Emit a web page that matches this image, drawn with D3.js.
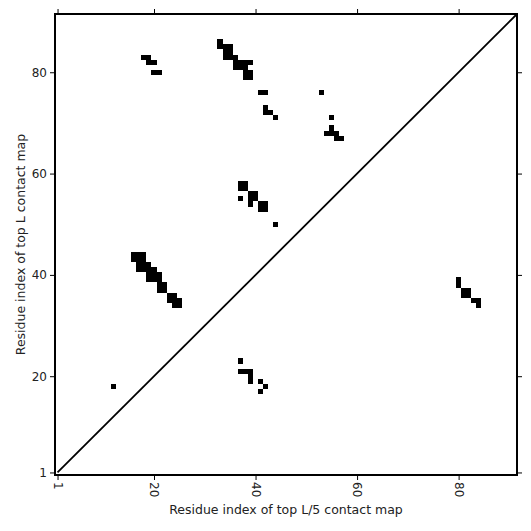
<!DOCTYPE html>
<html><head><meta charset="utf-8">
<script src="https://cdn.jsdelivr.net/npm/d3@7"></script>
<style>body{margin:0;background:#fff}svg{display:block}text{font-family:"DejaVu Sans",sans-serif;fill:#222}</style>
</head><body>
<script>
const L = 91;
const tickValues = [1, 20, 40, 60, 80];
// contacts in the upper-left triangle (top L contact map): [x, y]
const upperX = [18,19,19,20,20,21, 33,33,34,35,34,35,34,35, 36,36,37,38,36,37,38,39, 38,39,38,39,
                41,42,53, 42,42,43,44, 55,55,54,55,56,56,57,
                37,38,37,38,37,39,40,39,40,39,41,42,41,42,44];
const upperY = [83,83,82,82,80,80, 86,85,85,85,84,84,83,83, 83,82,82,82,81,81,81,82, 80,80,79,79,
                76,76,76, 73,72,72,71, 71,69,68,68,68,67,67,
                58,58,57,57,55,56,56,55,55,54,54,54,53,53,50];
// contacts in the lower-right triangle (top L/5 contact map): [x, y]
const lowerX = [16,17,18,16,17,18, 17,18,19, 17,18,19,20, 19,20,21, 19,20,21, 21,22, 21,22, 23,24, 23,24,25, 24,25,
                12, 37, 37,38,39, 39,39, 41,42,41,
                80,80,81,82,81,82,83,84,84];
const lowerY = [44,44,44,43,43,43, 42,42,42, 41,41,41,41, 40,40,40, 39,39,39, 38,38, 37,37, 36,36, 35,35,35, 34,34,
                18, 23, 21,21,21, 20,19, 19,18,17,
                39,38,37,37,36,36,35,35,34];

const W = 531, H = 531;
const mLeft = 55, mRight = 517, mTop = 14, mBottom = 475;
const svg = d3.select("body").append("svg").attr("width", W).attr("height", H);
const x = d3.scaleLinear().domain([0.5, L + 0.5]).range([mLeft, mRight]);
const y = d3.scaleLinear().domain([0.5, L + 0.5]).range([mBottom, mTop]);

const cells = upperX.map((v, i) => [v, upperY[i]]).concat(lowerX.map((v, i) => [v, lowerY[i]]));
svg.append("g").selectAll("rect").data(cells).join("rect")
  .attr("x", d => x(d[0] - 0.5))
  .attr("y", d => y(d[1] + 0.5))
  .attr("width", d => x(d[0] + 0.5) - x(d[0] - 0.5))
  .attr("height", d => y(d[1] - 0.5) - y(d[1] + 0.5))
  .attr("fill", "#000").attr("shape-rendering", "crispEdges");

svg.append("line")
  .attr("x1", x(1)).attr("y1", y(1)).attr("x2", x(L + 0.5)).attr("y2", y(L + 0.5))
  .attr("stroke", "#000").attr("stroke-width", 1.8);

const fmt = d3.format("d");
const gx = svg.append("g").attr("transform", `translate(0,${mBottom})`)
  .call(d3.axisBottom(x).tickValues(tickValues).tickSize(5).tickPadding(3).tickFormat(fmt));
gx.selectAll("text").attr("transform", "rotate(90)").attr("text-anchor", "start")
  .attr("x", 7).attr("y", 0).attr("dy", "0.35em");
const gy = svg.append("g").attr("transform", `translate(${mLeft},0)`)
  .call(d3.axisLeft(y).tickValues(tickValues).tickSize(5).tickPadding(3).tickFormat(fmt));
const gt = svg.append("g").attr("transform", `translate(0,${mTop})`)
  .call(d3.axisTop(x).tickValues(tickValues).tickSize(5).tickFormat(""));
const gr = svg.append("g").attr("transform", `translate(${mRight},0)`)
  .call(d3.axisRight(y).tickValues(tickValues).tickSize(5).tickFormat(""));
[gx, gy, gt, gr].forEach(g => {
  g.select(".domain").remove();
  g.selectAll("line").attr("stroke", "#000").attr("stroke-width", 1);
  g.selectAll("text").attr("font-size", 12).attr("fill", "#222").attr("font-family", "DejaVu Sans");
});

svg.append("rect").attr("x", mLeft).attr("y", mTop).attr("width", mRight - mLeft).attr("height", mBottom - mTop)
  .attr("fill", "none").attr("stroke", "#000").attr("stroke-width", 2);

svg.append("text").attr("x", (mLeft + mRight) / 2).attr("y", 514).attr("text-anchor", "middle")
  .attr("font-size", 12.5).text("Residue index of top L/5 contact map");
svg.append("text").attr("transform", `translate(25,${(mTop + mBottom) / 2}) rotate(-90)`)
  .attr("text-anchor", "middle").attr("font-size", 12.5).text("Residue index of top L contact map");
</script>
</body></html>
